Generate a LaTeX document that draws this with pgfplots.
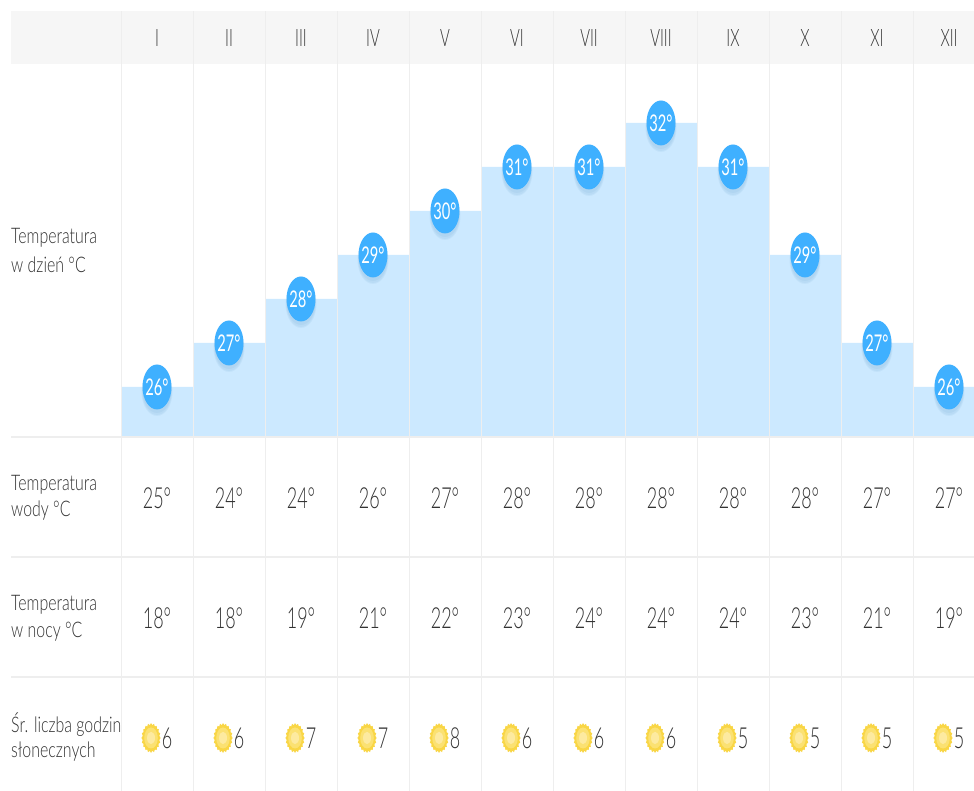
\documentclass[border=0pt]{standalone}
\usepackage{pgfplots}
\pgfplotsset{compat=1.18}
\usepackage{fontspec}
\setmainfont{Lato Light}[FakeStretch=.74]
\newfontfamily\nm{Lato Light}[FakeStretch=.62]
\newfontfamily\lb{Lato}[FakeStretch=.64]
\definecolor{gridc}{HTML}{EEEEEE}
\definecolor{headc}{HTML}{F6F6F6}
\definecolor{barc}{HTML}{CCE9FF}
\definecolor{bub}{HTML}{3FB0FF}
\definecolor{txt}{HTML}{333333}
\definecolor{sunout}{HTML}{F9D645}
\definecolor{sunmid}{HTML}{FBE172}
\definecolor{sunin}{HTML}{FDEAA0}
\pgfdeclareplotmark{bubble}{%
  \pgfsetfillopacity{0.06}\pgfsetcolor{bub!70!black}%
  \pgfpathellipse{\pgfpoint{0pt}{-5pt}}{\pgfpoint{15.5pt}{0pt}}{\pgfpoint{0pt}{24pt}}\pgfusepath{fill}%
  \pgfpathellipse{\pgfpoint{0pt}{-4.5pt}}{\pgfpoint{14.8pt}{0pt}}{\pgfpoint{0pt}{23.5pt}}\pgfusepath{fill}%
  \pgfpathellipse{\pgfpoint{0pt}{-3pt}}{\pgfpoint{14.6pt}{0pt}}{\pgfpoint{0pt}{23pt}}\pgfusepath{fill}%
  \pgfsetfillopacity{1}\pgfsetcolor{bub}%
  \pgfpathellipse{\pgfpointorigin}{\pgfpoint{14.5pt}{0pt}}{\pgfpoint{0pt}{22.5pt}}\pgfusepath{fill}%
}
\pgfdeclareplotmark{sun}{%
  \pgfsetcolor{sunout}%
  \pgfpathmoveto{\pgfpoint{9.6pt}{0pt}}%
  \foreach \k in {1,...,39}{%
    \pgfmathsetmacro\r{mod(\k,2)==0?9.6:8.4}%
    \pgfmathsetmacro\a{\k*9}%
    \pgfpathlineto{\pgfpoint{\r*cos(\a)*1pt}{1.55*\r*sin(\a)*1pt}}%
  }%
  \pgfpathclose\pgfusepath{fill}%
  \pgfsetcolor{sunmid}%
  \pgfpathellipse{\pgfpointorigin}{\pgfpoint{6.8pt}{0pt}}{\pgfpoint{0pt}{10.5pt}}\pgfusepath{fill}%
  \pgfsetcolor{sunin}%
  \pgfpathellipse{\pgfpointorigin}{\pgfpoint{4pt}{0pt}}{\pgfpoint{0pt}{6.2pt}}\pgfusepath{fill}%
}
\begin{document}
\begin{tikzpicture}
\begin{axis}[
  scale only axis, width=974pt, height=791pt,
  xmin=-1.6806, xmax=11.8472, ymin=16.818, ymax=34.795,
  hide axis, clip=true,
  /pgf/number format/assume math mode=true,
  nodes near coords={\pgfmathprintnumber{\pgfplotspointmeta}},
  every node near coord/.style={anchor=center,inner sep=0pt,text=txt,font=\nm\fontsize{29}{29}\selectfont},
]
% page background keeps the full picture size
\fill[white] (axis cs:-1.6806,16.818) rectangle (axis cs:11.8472,34.795);
% header band
\fill[headc] (axis cs:-1.5278,33.341) rectangle (axis cs:11.8472,34.545);
% bars: daytime temperature
\addplot[ybar,bar width=1,bar shift=0pt,fill=barc,draw=none,nodes near coords=\empty] table {
x y
0.5 26
1.5 27
2.5 28
3.5 29
4.5 30
5.5 31
6.5 31
7.5 32
8.5 31
9.5 29
10.5 27
11.5 26
};
\fill[white] (axis cs:-1.6806,16.818) rectangle (axis cs:11.8472,24.864);
% grid
\pgfplotsinvokeforeach{0,1,2,3,4,5,6,7,8,9,10,11}{
  \draw[gridc,line width=1pt] (axis cs:#1,16.818) -- (axis cs:#1,34.545);
}
\draw[gridc,line width=1.2pt] (axis cs:-1.5278,24.864) -- (axis cs:11.8472,24.864);
\draw[gridc,line width=1.2pt] (axis cs:-1.5278,22.136) -- (axis cs:11.8472,22.136);
\draw[gridc,line width=1.2pt] (axis cs:-1.5278,19.409) -- (axis cs:11.8472,19.409);
% bubbles
\addplot[only marks,mark=bubble,point meta=explicit,
  every node near coord/.append style={text=white,font=\lb\fontsize{23}{23}\selectfont},
  nodes near coords={\pgfmathprintnumber{\pgfplotspointmeta}°}]
 table[meta=y] {
x y
0.5 26
1.5 27
2.5 28
3.5 29
4.5 30
5.5 31
6.5 31
7.5 32
8.5 31
9.5 29
10.5 27
11.5 26
};
% water temperature
\addplot[draw=none,point meta=explicit,
  nodes near coords={\pgfmathprintnumber{\pgfplotspointmeta}°}]
 table[meta=t] {
x y t
0.5 23.477 25
1.5 23.477 24
2.5 23.477 24
3.5 23.477 26
4.5 23.477 27
5.5 23.477 28
6.5 23.477 28
7.5 23.477 28
8.5 23.477 28
9.5 23.477 28
10.5 23.477 27
11.5 23.477 27
};
% night temperature
\addplot[draw=none,point meta=explicit,
  nodes near coords={\pgfmathprintnumber{\pgfplotspointmeta}°}]
 table[meta=t] {
x y t
0.5 20.75 18
1.5 20.75 18
2.5 20.75 19
3.5 20.75 21
4.5 20.75 22
5.5 20.75 23
6.5 20.75 24
7.5 20.75 24
8.5 20.75 24
9.5 20.75 23
10.5 20.75 21
11.5 20.75 19
};
% sun hours
\addplot[only marks,mark=sun,nodes near coords=\empty] table {
x y
0.417 18.023
1.417 18.023
2.417 18.023
3.417 18.023
4.417 18.023
5.417 18.023
6.417 18.023
7.417 18.023
8.417 18.023
9.417 18.023
10.417 18.023
11.417 18.023
};
\addplot[draw=none,point meta=explicit] table[meta=t] {
x y t
0.64 18.023 6
1.64 18.023 6
2.64 18.023 7
3.64 18.023 7
4.64 18.023 8
5.64 18.023 6
6.64 18.023 6
7.64 18.023 6
8.64 18.023 5
9.64 18.023 5
10.64 18.023 5
11.64 18.023 5
};
% header labels
\foreach \lab [count=\i from 0] in {I,II,III,IV,V,VI,VII,VIII,IX,X,XI,XII}{
  \edef\tmp{\noexpand\node[text=txt,font=\noexpand\nm\noexpand\fontsize{24}{24}\noexpand\selectfont] at (axis cs:\i+0.5,33.932) {\lab};}\tmp
}
% row labels
\tikzset{rl/.style={anchor=west,inner sep=0pt,text=txt,font=\fontsize{21.5}{21.5}\selectfont}}
\node[rl] at (axis cs:-1.5278,29.386) {Temperatura};
\node[rl] at (axis cs:-1.5278,28.773) {w dzień °C};
\node[rl] at (axis cs:-1.5278,23.773) {Temperatura};
\node[rl] at (axis cs:-1.5278,23.182) {wody °C};
\node[rl] at (axis cs:-1.5278,21.045) {Temperatura};
\node[rl] at (axis cs:-1.5278,20.432) {w nocy °C};
\node[rl] at (axis cs:-1.5278,18.318) {Śr. liczba godzin};
\node[rl] at (axis cs:-1.5278,17.705) {słonecznych};
\end{axis}
\end{tikzpicture}
\end{document}
